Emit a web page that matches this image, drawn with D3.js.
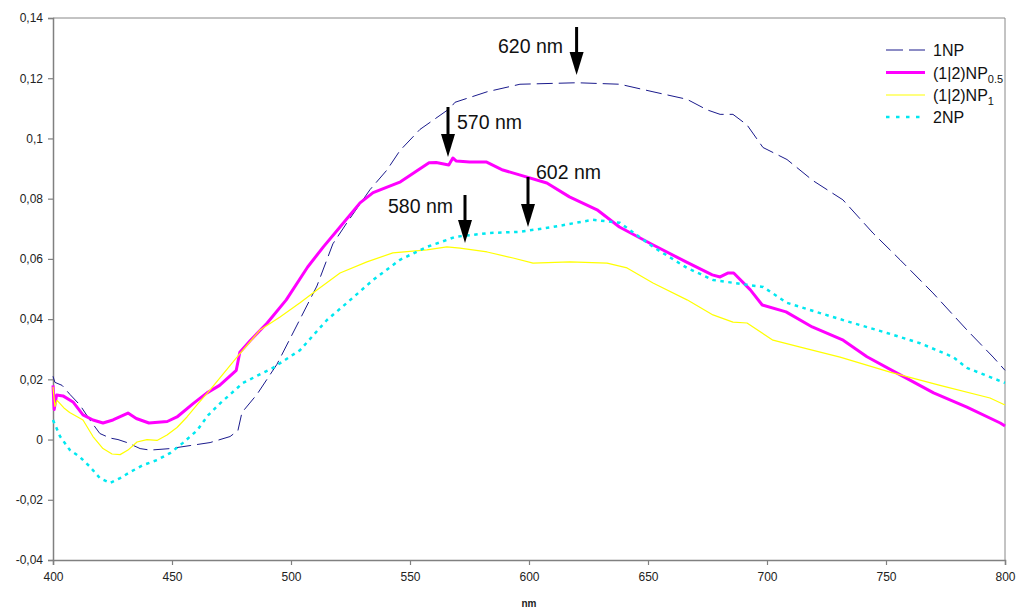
<!DOCTYPE html>
<html><head><meta charset="utf-8">
<script src="https://cdn.jsdelivr.net/npm/d3@7"></script>
<style>
body{margin:0;background:#fff;}
text{font-family:"Liberation Sans",Arial,sans-serif;}
</style></head>
<body><svg id="chart" width="1017" height="613"></svg>
<script>
// ---- data ----
const np1Nm  = [400,400.8,403.8,407.1,411.3,415.5,419.7,424,427.3,431.1,436.6,440.8,449.2,457.6,466,474.4,477.7,479.4,485.7,494.1,503.8,510.9,517.6,523.5,533.2,540.3,545.8,554.2,566.8,568.9,582.4,596.2,620.2,638.2,652.1,666.4,674.8,680.3,685.7,691.6,698.3,708.4,719.3,731.9,744.5,755.9,769.7,784,795,800];
const np1Abs = [0.021,0.019,0.018,0.015,0.0115,0.0065,0.002,0.0005,0.0,-0.001,-0.003,-0.0035,-0.003,-0.002,-0.001,0.001,0.003,0.009,0.015,0.025,0.040,0.051,0.065,0.072,0.083,0.0895,0.096,0.103,0.110,0.112,0.1155,0.118,0.1185,0.118,0.1155,0.113,0.1095,0.108,0.108,0.1045,0.097,0.093,0.086,0.0796,0.0686,0.0597,0.0487,0.0364,0.0274,0.023];

const np05Nm  = [400,400.5,401.5,404.2,408.4,412.6,416.8,421,425.2,431.5,435,440.3,448,452.1,459,464.7,470,477,478.5,483,490,498,507,513.6,520.6,529,534.5,546,558,561,566.3,568,569.5,575,582,589,596,607.5,617,628.6,638,652,666,677,680.3,683.5,686,693,698,708,719,732,742,756,770,784,798,800];
const np05Abs = [0.018,0.010,0.0148,0.0145,0.0125,0.0082,0.0065,0.0055,0.0065,0.0088,0.007,0.0055,0.006,0.0075,0.012,0.0155,0.018,0.023,0.029,0.033,0.0387,0.0464,0.0573,0.064,0.0706,0.0786,0.082,0.0856,0.0919,0.092,0.0912,0.0935,0.0925,0.0922,0.0922,0.0895,0.0879,0.0852,0.0806,0.0763,0.0706,0.0647,0.059,0.0547,0.054,0.0553,0.0553,0.0497,0.0447,0.0424,0.0374,0.033,0.0275,0.0215,0.0155,0.0108,0.0055,0.0045];

const np1bNm  = [400,400.8,401.7,404.6,407,412.6,416.8,421,424.8,428.2,431.5,435.3,439.5,443.7,447.9,452.1,456.3,460.5,466,477.3,487,495.4,503.8,510.9,520.6,531.9,542.8,557.1,565.5,571,582.4,593.3,601.7,617.2,632.8,641.2,652.1,666.4,677.3,685.7,691.6,702.5,714,730.7,751.7,772.7,793.7,800];
const np1bAbs = [0.0175,0.011,0.013,0.0105,0.009,0.0065,0.001,-0.003,-0.0048,-0.005,-0.0035,-0.0008,0.0,-0.0003,0.0015,0.004,0.0075,0.0115,0.0165,0.0274,0.0364,0.0407,0.0454,0.0497,0.0553,0.059,0.062,0.063,0.064,0.0636,0.0623,0.0603,0.0586,0.059,0.0586,0.057,0.052,0.0464,0.0414,0.039,0.0387,0.033,0.0307,0.0274,0.0224,0.018,0.0138,0.0115];

const np2Nm  = [400,403,407.1,411.3,415.5,419.7,424,428.2,432.4,437.8,443.7,449.2,454.6,460.5,465.1,470.2,479.8,492.4,503.8,515.1,523.5,534.5,545.8,557.1,565.5,568.9,583.2,596.2,610.1,626.9,638.2,652.1,666.4,677.3,691.6,698.3,708.4,722.3,736.1,750.4,764.3,778.2,784,800];
const np2Abs = [0.0065,0.001,-0.0035,-0.0058,-0.009,-0.0128,-0.0144,-0.0128,-0.0108,-0.0085,-0.0068,-0.0045,-0.0011,0.003,0.008,0.012,0.0188,0.0238,0.0297,0.0397,0.0454,0.053,0.0597,0.064,0.0663,0.0673,0.0686,0.069,0.0706,0.073,0.072,0.064,0.057,0.053,0.0514,0.0507,0.0454,0.042,0.0387,0.0354,0.032,0.0274,0.0238,0.0188];

const xTicks = [400,450,500,550,600,650,700,750,800];
const yTicks = [-0.04,-0.02,0,0.02,0.04,0.06,0.08,0.1,0.12,0.14];
const yTickLabels = ["-0,04","-0,02","0","0,02","0,04","0,06","0,08","0,1","0,12","0,14"];

const seriesNames = ["1NP","(1|2)NP","(1|2)NP","2NP"];
const seriesSubs = ["","0.5","1",""];

const annLabels = ["620 nm","570 nm","602 nm","580 nm"];

// ---- layout ----
const L=53,R=1005,T=18,B=560;
const svg=d3.select("#chart");
const x=d3.scaleLinear().domain([400,800]).range([L,R]);
const y=d3.scaleLinear().domain([-0.04,0.14]).range([B,T]);

// frame
svg.append("line").attr("x1",L).attr("x2",R).attr("y1",T).attr("y2",T).attr("stroke","#888").attr("stroke-width",1);
svg.append("line").attr("x1",R).attr("x2",R).attr("y1",T).attr("y2",B).attr("stroke","#888").attr("stroke-width",1);

// axes
const yAxis=d3.axisLeft(y).tickValues(yTicks).tickSize(5).tickPadding(5)
  .tickFormat((d,i)=>yTickLabels[i]);
const gy=svg.append("g").attr("transform",`translate(${L},0)`).call(yAxis);
const xAxis=d3.axisBottom(x).tickValues(xTicks).tickSize(5).tickPadding(7).tickFormat(d3.format("d"));
const gx=svg.append("g").attr("transform",`translate(0,${B})`).call(xAxis);
[gx,gy].forEach(g=>{
  g.select(".domain").attr("stroke","#808080").attr("stroke-width",1.5);
  g.selectAll(".tick line").attr("stroke","#808080").attr("stroke-width",1.2);
  g.selectAll(".tick text").attr("fill","#222").style("font-size","12px").style("font-family","'Liberation Sans',Arial,sans-serif");
});
svg.append("text").attr("x",x(600)).attr("y",607).attr("text-anchor","middle")
  .style("font-size","10px").style("font-weight","bold").attr("fill","#222").text("nm");

// lines
const line=d3.line().x(d=>x(d[0])).y(d=>y(d[1]));
const zip=(a,b)=>a.map((v,i)=>[v,b[i]]);
const styles=[
  {c:"#1a1a8c",w:1,dash:"16,6"},
  {c:"#ff00ff",w:3,dash:null},
  {c:"#ffff00",w:1.2,dash:null},
  {c:"#00e8f0",w:2.5,dash:"3.5,4.5"}
];
const dataSets=[zip(np1Nm,np1Abs),zip(np05Nm,np05Abs),zip(np1bNm,np1bAbs),zip(np2Nm,np2Abs)];
dataSets.forEach((ds,i)=>{
  const p=svg.append("path").datum(ds).attr("d",line).attr("fill","none")
    .attr("stroke",styles[i].c).attr("stroke-width",styles[i].w).attr("stroke-linejoin","round");
  if(styles[i].dash) p.attr("stroke-dasharray",styles[i].dash);
});

// legend
const legY=[50,72.5,95,117];
seriesNames.forEach((n,i)=>{
  const g=svg.append("g");
  const ln=g.append("line").attr("x1",886).attr("x2",925).attr("y1",legY[i]).attr("y2",legY[i])
    .attr("stroke",styles[i].c).attr("stroke-width",styles[i].w);
  if(styles[i].dash) ln.attr("stroke-dasharray",i===0?"17,6":"3.5,6.5");
  const t=g.append("text").attr("x",933).attr("y",legY[i]+6).style("font-size","16px").attr("fill","#111").text(n);
  if(seriesSubs[i]) t.append("tspan").attr("dy",4).style("font-size","11px").text(seriesSubs[i]);
});

// annotations
const ann=[
  {tx:498,ty:53,ax:x(620),a1:27,a2:75},
  {tx:457,ty:129,ax:448,a1:107,a2:157},
  {tx:536,ty:179,ax:528,a1:177,a2:227},
  {tx:388,ty:213,ax:465,a1:195,a2:243}
];
ann.forEach((a,i)=>{
  svg.append("text").attr("x",a.tx).attr("y",a.ty).style("font-size","19.5px").attr("fill","#111").text(annLabels[i]);
  svg.append("line").attr("x1",a.ax).attr("x2",a.ax).attr("y1",a.a1).attr("y2",a.a2-18)
    .attr("stroke","#000").attr("stroke-width",3);
  svg.append("path").attr("d",`M${a.ax-7},${a.a2-23} L${a.ax+7},${a.a2-23} L${a.ax},${a.a2} Z`).attr("fill","#000");
});
</script></body></html>
